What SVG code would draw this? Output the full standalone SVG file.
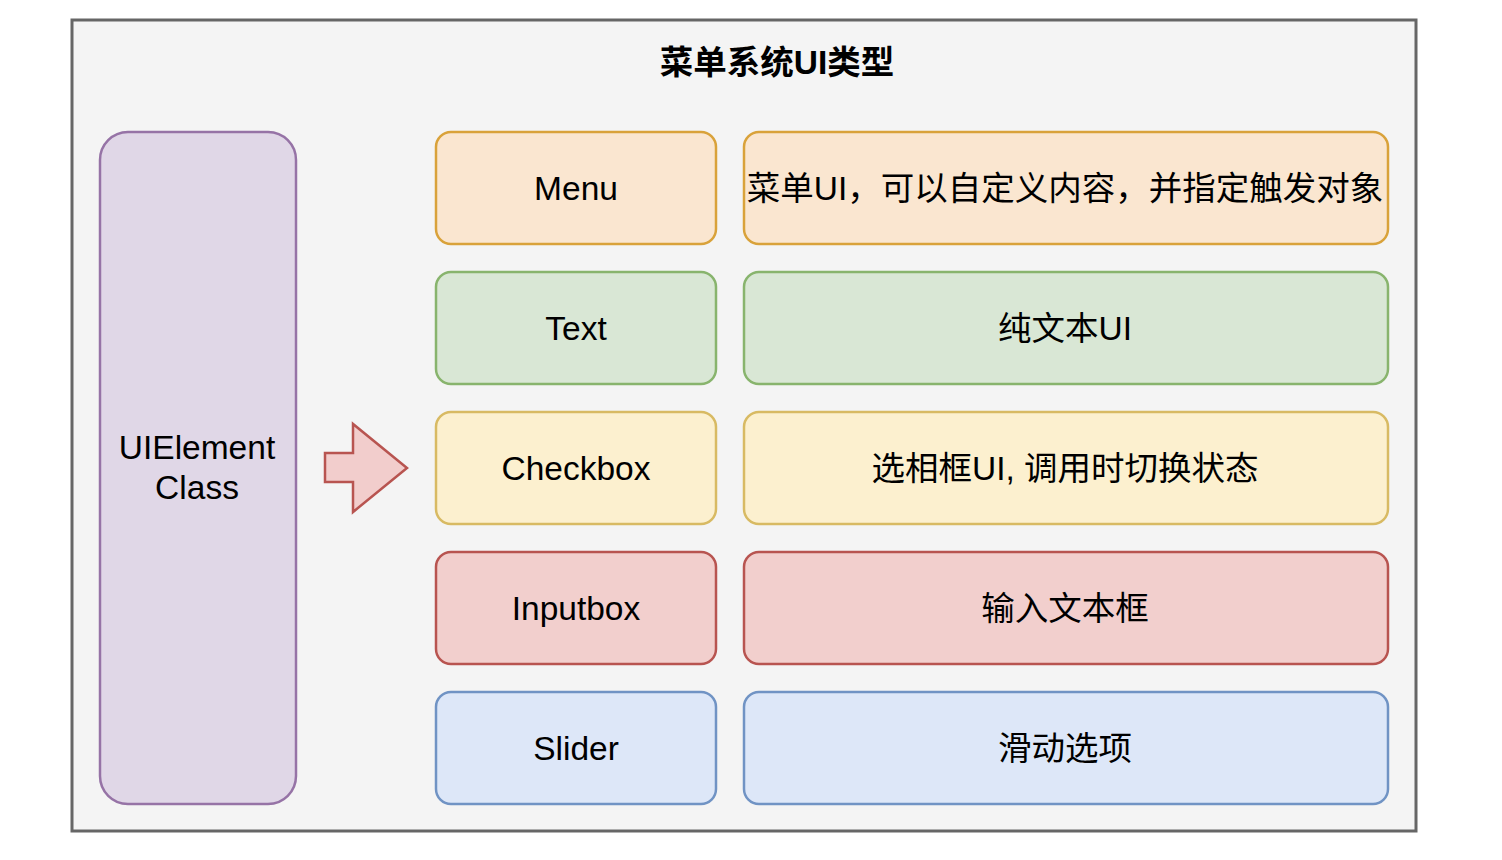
<svg xmlns="http://www.w3.org/2000/svg" width="1502" height="860" viewBox="0 0 1502 860">
<style>
.t{font-family:"Liberation Sans","Noto Sans CJK SC",sans-serif;font-size:33.5px;fill:#000;text-anchor:middle;dominant-baseline:central}
.b{stroke-width:2.5}
.or{fill:#fae6d0;stroke:#d9a23a}
.gr{fill:#d9e7d5;stroke:#88b46d}
.ye{fill:#fcf0cf;stroke:#d8ba63}
.re{fill:#f2cfcd;stroke:#b85450}
.bl{fill:#dde7f8;stroke:#7093c4}
</style>
<rect width="1502" height="860" fill="#fff"/>
<g id="container">
<rect x="72" y="20" width="1344" height="811" fill="#f4f4f4" stroke="#666" stroke-width="3"/>
<text class="t" x="777" y="62" font-weight="bold">菜单系统UI类型</text>
</g>
<g id="uielement">
<rect x="100" y="132" width="196" height="672" rx="28" fill="#e0d7e7" stroke="#9673a6" stroke-width="2.5"/>
<text class="t" x="197" y="447">UIElement</text>
<text class="t" x="197" y="487">Class</text>
</g>
<g id="connectors">
<polygon points="325,453 353,453 353,424 407,468 353,512 353,482 325,482" fill="#f2cdcc" stroke="#b85450" stroke-width="2.5" stroke-linejoin="miter"/>
</g>
<g id="menu"><rect class="b or" x="436" y="132" width="280" height="112" rx="15"/><text class="t" x="576" y="188">Menu</text></g>
<g id="menu-desc"><rect class="b or" x="744" y="132" width="644" height="112" rx="15"/><text class="t" x="1065" y="188">菜单UI，可以自定义内容，并指定触发对象</text></g>
<g id="text"><rect class="b gr" x="436" y="272" width="280" height="112" rx="15"/><text class="t" x="576" y="328">Text</text></g>
<g id="text-desc"><rect class="b gr" x="744" y="272" width="644" height="112" rx="15"/><text class="t" x="1065" y="328">纯文本UI</text></g>
<g id="checkbox"><rect class="b ye" x="436" y="412" width="280" height="112" rx="15"/><text class="t" x="576" y="468">Checkbox</text></g>
<g id="checkbox-desc"><rect class="b ye" x="744" y="412" width="644" height="112" rx="15"/><text class="t" x="1065" y="468">选相框UI, 调用时切换状态</text></g>
<g id="inputbox"><rect class="b re" x="436" y="552" width="280" height="112" rx="15"/><text class="t" x="576" y="608">Inputbox</text></g>
<g id="inputbox-desc"><rect class="b re" x="744" y="552" width="644" height="112" rx="15"/><text class="t" x="1065" y="608">输入文本框</text></g>
<g id="slider"><rect class="b bl" x="436" y="692" width="280" height="112" rx="15"/><text class="t" x="576" y="748">Slider</text></g>
<g id="slider-desc"><rect class="b bl" x="744" y="692" width="644" height="112" rx="15"/><text class="t" x="1065" y="748">滑动选项</text></g>
</svg>
